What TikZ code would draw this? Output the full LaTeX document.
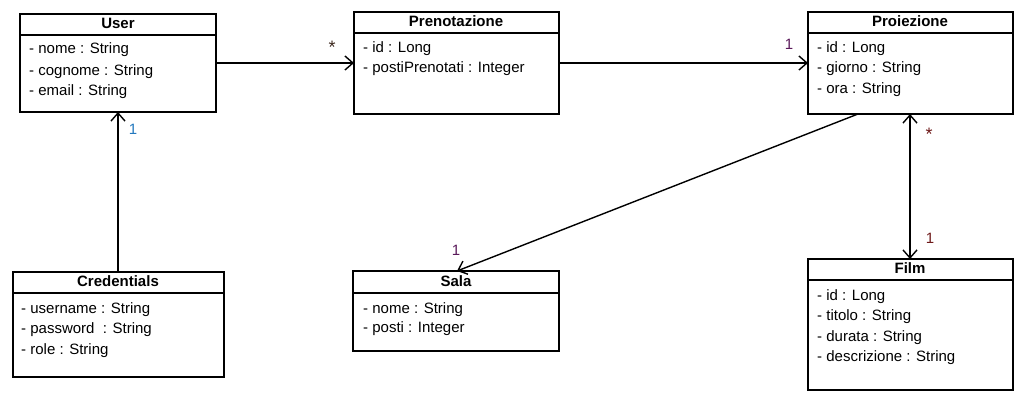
\documentclass[tikz,border=0pt]{standalone}
\usepackage{fontspec}
\setmainfont{Liberation Sans}
\usetikzlibrary{arrows.meta}
\definecolor{lblblue}{RGB}{35,120,190}
\definecolor{lblpurple}{RGB}{90,25,90}
\definecolor{lblred}{RGB}{110,25,25}
\definecolor{lbldark}{RGB}{60,40,30}
\tikzset{
  cls/.style={draw, line width=1.4pt, anchor=north west, inner sep=0pt, outer sep=0pt},
  ttl/.style={font=\fontsize{15}{17}\selectfont\bfseries, anchor=center, inner sep=0pt},
  attr/.style={font=\fontsize{15}{17}\selectfont, anchor=base west, inner sep=0pt},
  barb/.tip={Straight Barb[length=8pt,width=14pt,line width=1.4pt]},
  conn/.style={line width=1.4pt, -barb},
  mult/.style={font=\fontsize{15}{17}\selectfont, inner sep=0pt},
  star/.style={font=\fontsize{18}{18}\selectfont, inner sep=0pt}
}
\begin{document}
\begin{tikzpicture}[x=1pt,y=-1pt]
\useasboundingbox (0,0) rectangle (1022,403);
% classes
\node[cls, minimum width=196pt, minimum height=98pt] (user) at (20,14) {};
\node[cls, minimum width=205pt, minimum height=102pt] (pren) at (354,12) {};
\node[cls, minimum width=205pt, minimum height=102pt] (proi) at (808,12) {};
\node[cls, minimum width=211pt, minimum height=105pt] (cred) at (13,272) {};
\node[cls, minimum width=206pt, minimum height=80pt] (sala) at (353,271) {};
\node[cls, minimum width=205pt, minimum height=131pt] (film) at (808,259) {};
% header lines
\draw[line width=1.4pt] (20,35) -- (216,35);
\draw[line width=1.4pt] (354,33) -- (559,33);
\draw[line width=1.4pt] (808,33) -- (1013,33);
\draw[line width=1.4pt] (13,293) -- (224,293);
\draw[line width=1.4pt] (353,293) -- (559,293);
\draw[line width=1.4pt] (808,280) -- (1013,280);
% titles
\node[ttl] (tuser) at (118,23) {User};
\node[ttl] (tpren) at (456,21) {Prenotazione};
\node[ttl] (tproi) at (910,21) {Proiezione};
\node[ttl] (tcred) at (118,281) {Credentials};
\node[ttl] (tsala) at (456,281) {Sala};
\node[ttl] (tfilm) at (910,268) {Film};
% attributes
\node[attr] (u1) at (29,54) {- nome : String};
\node[attr] (u2) at (29,76) {- cognome : String};
\node[attr] (u3) at (29,96) {- email : String};
\node[attr] (p1) at (363,53) {- id : Long};
\node[attr] (p2) at (363,73) {- postiPrenotati : Integer};
\node[attr] (r1) at (817,53) {- id : Long};
\node[attr] (r2) at (817,73) {- giorno : String};
\node[attr] (r3) at (817,94) {- ora : String};
\node[attr] (c1) at (21,313) {- username : String};
\node[attr] (c2) at (21,333) {- password \ : String};
\node[attr] (c3) at (21,354) {- role : String};
\node[attr] (s1) at (363,313) {- nome : String};
\node[attr] (s2) at (363,332) {- posti : Integer};
\node[attr] (f1) at (817,300) {- id : Long};
\node[attr] (f2) at (817,320) {- titolo : String};
\node[attr] (f3) at (817,341) {- durata : String};
\node[attr] (f4) at (817,361) {- descrizione : String};
% connectors
\draw[conn] (user.east |- 0,63) -- (pren.west |- 0,63);
\draw[conn] (pren.east |- 0,63) -- (proi.west |- 0,63);
\draw[conn] (cred.north -| 118,0) -- (user.south -| 118,0);
\coordinate (sa) at (858,114);
\coordinate (sb) at (457,271);
\draw[conn] (sa) -- (sb);
\draw[conn, barb-barb] (proi.south -| 910,0) -- (film.north -| 910,0);
% multiplicities
\node[star, text=lbldark] (m1) at (332,47) {*};
\node[mult, text=lblpurple] (m2) at (789,44) {1};
\node[mult, text=lblblue] (m3) at (133,129) {1};
\node[mult, text=lblpurple] (m4) at (456,250) {1};
\node[star, text=lblred] (m5) at (929,134) {*};
\node[mult, text=lblred] (m6) at (930,238) {1};
\end{tikzpicture}
\end{document}
